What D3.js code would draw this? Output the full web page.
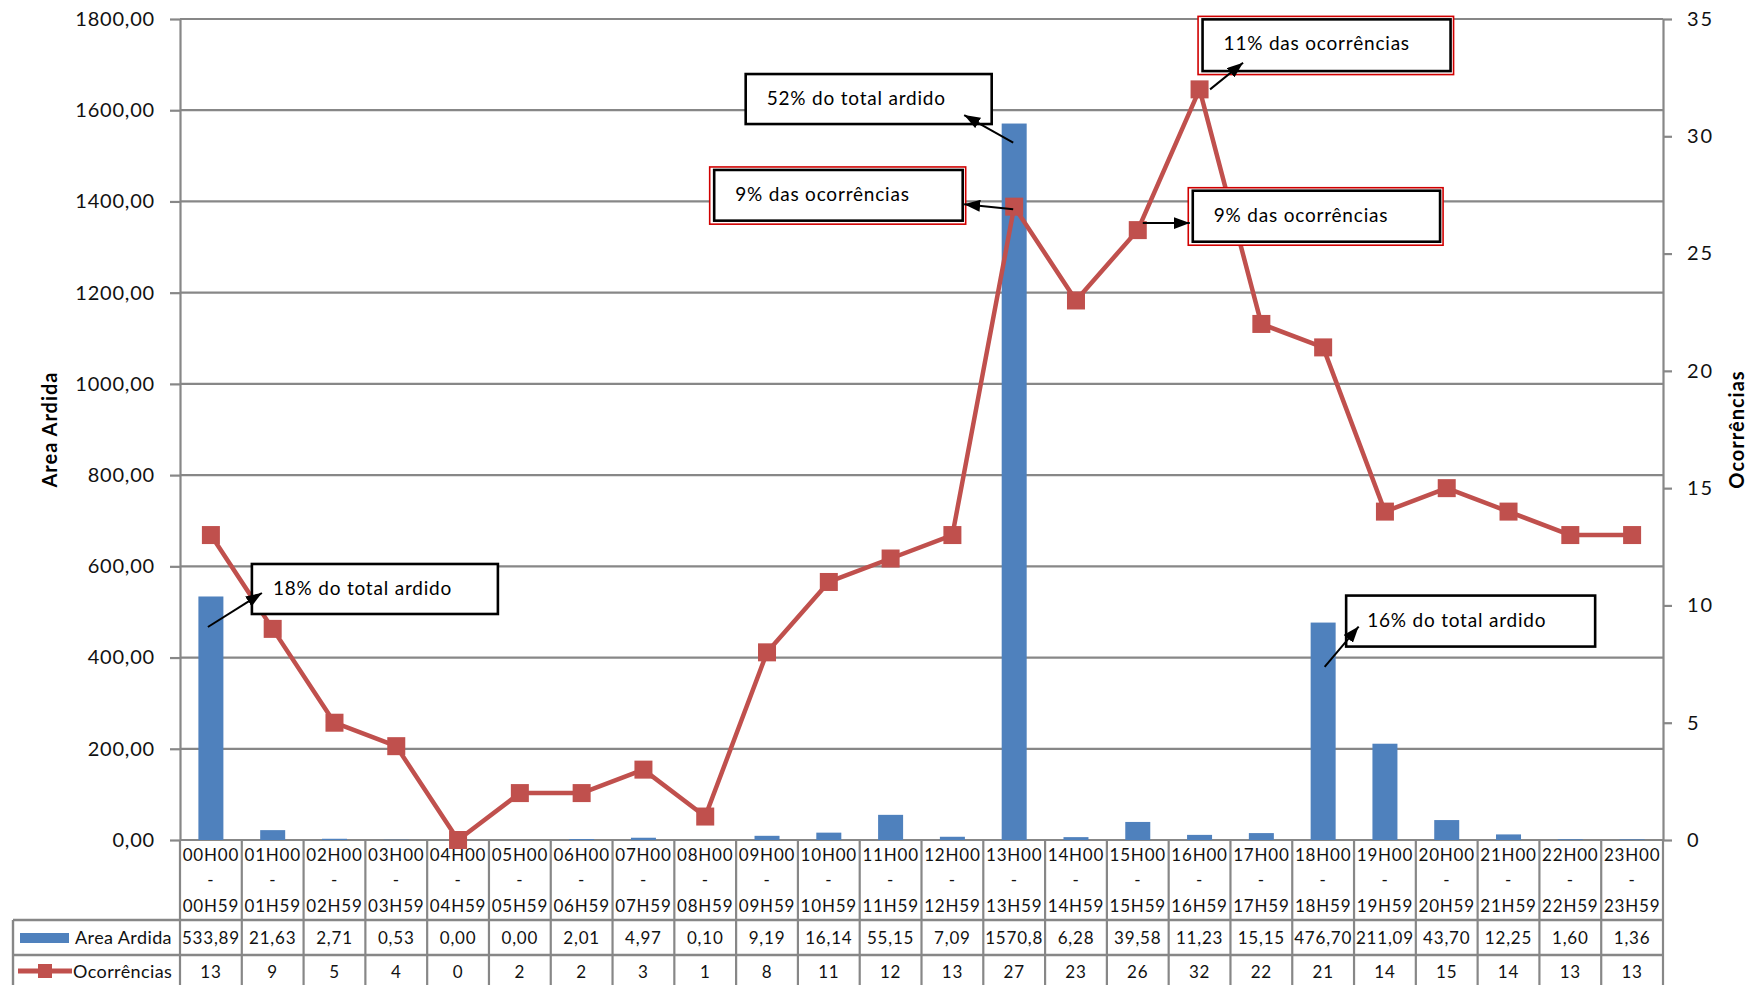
<!DOCTYPE html>
<html>
<head>
<meta charset="utf-8">
<script src="https://cdn.jsdelivr.net/npm/d3@7/dist/d3.min.js"></script>
<style>
  html, body { margin: 0; padding: 0; background: #fff; }
  svg { display: block; font-family: Lato, "Open Sans", sans-serif; }
</style>
</head>
<body>
<div id="chart"></div>
<script>
// ── Dados ────────────────────────────────────────────────────────────────
const horas_inicio = ['00H00','01H00','02H00','03H00','04H00','05H00','06H00','07H00','08H00','09H00','10H00','11H00',
                      '12H00','13H00','14H00','15H00','16H00','17H00','18H00','19H00','20H00','21H00','22H00','23H00'];
const horas_fim    = ['00H59','01H59','02H59','03H59','04H59','05H59','06H59','07H59','08H59','09H59','10H59','11H59',
                      '12H59','13H59','14H59','15H59','16H59','17H59','18H59','19H59','20H59','21H59','22H59','23H59'];
const area_ardida  = [533.89, 21.63, 2.71, 0.53, 0.00, 0.00, 2.01, 4.97, 0.10, 9.19, 16.14, 55.15,
                      7.09, 1570.8, 6.28, 39.58, 11.23, 15.15, 476.70, 211.09, 43.70, 12.25, 1.60, 1.36];
const area_labels  = ['533,89','21,63','2,71','0,53','0,00','0,00','2,01','4,97','0,10','9,19','16,14','55,15',
                      '7,09','1570,8','6,28','39,58','11,23','15,15','476,70','211,09','43,70','12,25','1,60','1,36'];
const ocorrencias  = [13, 9, 5, 4, 0, 2, 2, 3, 1, 8, 11, 12, 13, 27, 23, 26, 32, 22, 21, 14, 15, 14, 13, 13];

const area_ticks = [0, 200, 400, 600, 800, 1000, 1200, 1400, 1600, 1800];
const ocor_ticks = [0, 5, 10, 15, 20, 25, 30, 35];

const notas_texto = ['18% do total ardido', '52% do total ardido', '9% das  ocorrências',
                     '11% das ocorrências', '9% das ocorrências', '16% do total ardido'];

// ── Layout ───────────────────────────────────────────────────────────────
const width = 1758, height = 985;
const plot = { left: 180, right: 1663, top: 19, bottom: 840 };
const tabela = { left: 13, linha1: 920, linha2: 955, fundo: 995 };
const cinza = '#878787', azul = '#4F81BD', vermelho = '#C0504D';

// anotações: âncora (série, índice) + deslocamentos em px
const notas_layout = [
  { serie: 'area', i: 0,  de: [-3, 30.5],  para: [51, -3.5],  caixa: [41, -32.5, 246, 50],    duplo: false },
  { serie: 'area', i: 13, de: [-1, 19],    para: [-50, -8.5], caixa: [-268.5, -49.5, 246, 50], duplo: false },
  { serie: 'ocor', i: 13, de: [-1, 2.5],   para: [-50, -2.5], caixa: [-300, -36.7, 248.5, 50.7], duplo: true },
  { serie: 'ocor', i: 16, de: [10.5, 0],   para: [43.5, -26.7], caixa: [3, -70, 248, 51.7],  duplo: true },
  { serie: 'ocor', i: 15, de: [5, -7],     para: [52, -7],    caixa: [55, -39.4, 247.3, 51], duplo: true },
  { serie: 'area', i: 18, de: [1.5, 44.4], para: [35.5, 4],   caixa: [23, -27, 249, 51],     duplo: false }
];

const svg = d3.select('#chart').append('svg')
  .attr('width', width).attr('height', height)
  .attr('viewBox', [0, 0, width, height]);

svg.append('rect').attr('width', width).attr('height', height).attr('fill', '#fff');

const defs   = svg.append('defs');
const grelha = svg.append('g').attr('id', 'grelha');
const barras = svg.append('g').attr('id', 'barras');
const tab    = svg.append('g').attr('id', 'tabela');
const eixos  = svg.append('g').attr('id', 'eixos');
const linha  = svg.append('g').attr('id', 'linha');
const caixas = svg.append('g').attr('id', 'caixas');
const setas  = svg.append('g').attr('id', 'setas');

// ── Escalas ──────────────────────────────────────────────────────────────
const idx = d3.range(horas_inicio.length);
const x = d3.scaleBand().domain(idx).range([plot.left, plot.right]).padding(0);
const cx = i => x(i) + x.bandwidth() / 2;
const yArea = d3.scaleLinear().domain([0, 1800]).range([plot.bottom, plot.top]);
const yOcor = d3.scaleLinear().domain([0, 35]).range([plot.bottom, plot.top]);

const pt = d3.formatLocale({ decimal: ',', thousands: '', grouping: [3], currency: ['', ''] });
const fmtArea = pt.format('.2f');

// ── Grelha ───────────────────────────────────────────────────────────────
grelha.selectAll('line')
  .data(area_ticks)
  .join('line')
  .attr('x1', plot.left).attr('x2', plot.right)
  .attr('y1', d => yArea(d)).attr('y2', d => yArea(d))
  .attr('stroke', cinza).attr('stroke-width', 2.2);

// ── Barras ───────────────────────────────────────────────────────────────
const barW = 25;
barras.selectAll('rect')
  .data(area_ardida)
  .join('rect')
  .attr('x', (d, i) => cx(i) - barW / 2)
  .attr('width', barW)
  .attr('y', d => yArea(d))
  .attr('height', d => yArea(0) - yArea(d))
  .attr('fill', azul);

// ── Eixos ────────────────────────────────────────────────────────────────
const eixoEsq = eixos.append('g')
  .attr('transform', `translate(${plot.left},0)`)
  .call(d3.axisLeft(yArea).tickValues(area_ticks).tickFormat(fmtArea)
    .tickSize(10).tickSizeOuter(0).tickPadding(15));

const eixoDir = eixos.append('g')
  .attr('transform', `translate(${plot.right},0)`)
  .call(d3.axisRight(yOcor).tickValues(ocor_ticks).tickFormat(d3.format('d'))
    .tickSize(9).tickSizeOuter(0).tickPadding(15));

[eixoEsq, eixoDir].forEach(g => {
  g.attr('font-family', null).attr('font-size', null);
  g.select('.domain').attr('stroke', cinza).attr('stroke-width', 2.2);
  g.selectAll('.tick line').attr('stroke', cinza).attr('stroke-width', 2.2);
  g.selectAll('.tick text').attr('fill', '#111').attr('font-size', 20).attr('letter-spacing', 0.8);
});
eixoDir.selectAll('.tick text').attr('letter-spacing', 2);

eixos.append('text')
  .attr('transform', `translate(50,${(plot.top + plot.bottom) / 2}) rotate(-90)`)
  .attr('text-anchor', 'middle').attr('dy', '0.35em')
  .attr('font-size', 20).attr('font-weight', 700).attr('letter-spacing', 1)
  .text('Area Ardida');

eixos.append('text')
  .attr('transform', `translate(1737,${(plot.top + plot.bottom) / 2}) rotate(-90)`)
  .attr('text-anchor', 'middle').attr('dy', '0.35em')
  .attr('font-size', 20).attr('font-weight', 700).attr('letter-spacing', 1)
  .text('Ocorrências');

// ── Tabela de dados ──────────────────────────────────────────────────────
const cols = idx.map(i => x(i)).concat([plot.right]);
tab.selectAll('line.col')
  .data(cols)
  .join('line').attr('class', 'col')
  .attr('x1', d => d).attr('x2', d => d)
  .attr('y1', plot.bottom).attr('y2', tabela.fundo)
  .attr('stroke', cinza).attr('stroke-width', 2.2);

tab.selectAll('line.row')
  .data([tabela.linha1, tabela.linha2])
  .join('line').attr('class', 'row')
  .attr('x1', tabela.left).attr('x2', plot.right)
  .attr('y1', d => d).attr('y2', d => d)
  .attr('stroke', cinza).attr('stroke-width', 2.4);

tab.append('line')
  .attr('x1', tabela.left).attr('x2', tabela.left)
  .attr('y1', tabela.linha1).attr('y2', tabela.fundo)
  .attr('stroke', cinza).attr('stroke-width', 2.4);

const celula = (dados, y, txt) => tab.append('g').selectAll('text')
  .data(dados)
  .join('text')
  .attr('x', (d, i) => cx(i))
  .attr('y', y).attr('dy', '0.36em')
  .attr('text-anchor', 'middle')
  .attr('font-size', 17).attr('letter-spacing', 0.8).attr('fill', '#111')
  .text(txt);

celula(horas_inicio, 855, d => d);
celula(horas_inicio, 880, () => '-');
celula(horas_fim, 906, d => d);
celula(area_labels, 938, d => d);
celula(ocorrencias, 972, d => d);

// legenda na tabela
tab.append('rect').attr('x', 20).attr('y', 933).attr('width', 49).attr('height', 10).attr('fill', azul);
tab.append('line').attr('x1', 18).attr('x2', 72).attr('y1', 971).attr('y2', 971)
  .attr('stroke', vermelho).attr('stroke-width', 5);
tab.append('rect').attr('x', 38).attr('y', 964).attr('width', 14).attr('height', 14).attr('fill', vermelho);
tab.append('text').attr('x', 75).attr('y', 938).attr('dy', '0.36em')
  .attr('font-size', 18).attr('letter-spacing', 0.4).attr('fill', '#111').text('Area Ardida');
tab.append('text').attr('x', 73).attr('y', 972).attr('dy', '0.36em')
  .attr('font-size', 18).attr('letter-spacing', 0.4).attr('fill', '#111').text('Ocorrências');

// ── Linha de ocorrências ─────────────────────────────────────────────────
linha.append('path')
  .datum(ocorrencias)
  .attr('d', d3.line().x((d, i) => cx(i)).y(d => yOcor(d)))
  .attr('fill', 'none').attr('stroke', vermelho)
  .attr('stroke-width', 4.5).attr('stroke-linejoin', 'round');

const mk = 18;
linha.selectAll('rect')
  .data(ocorrencias)
  .join('rect')
  .attr('x', (d, i) => cx(i) - mk / 2)
  .attr('y', d => yOcor(d) - mk / 2)
  .attr('width', mk).attr('height', mk)
  .attr('fill', vermelho);

// ── Anotações ────────────────────────────────────────────────────────────
defs.append('marker')
  .attr('id', 'seta')
  .attr('markerUnits', 'userSpaceOnUse')
  .attr('viewBox', '0 -6 16 12')
  .attr('refX', 16).attr('refY', 0)
  .attr('markerWidth', 16).attr('markerHeight', 12)
  .attr('orient', 'auto')
  .append('path').attr('d', 'M0,-6L16,0L0,6Z').attr('fill', '#000');

const ancora = n => [cx(n.i), n.serie === 'area' ? yArea(area_ardida[n.i]) : yOcor(ocorrencias[n.i])];

notas_layout.forEach((n, k) => {
  const [ax, ay] = ancora(n);
  const [bx, by, bw, bh] = n.caixa;
  const g = caixas.append('g');

  if (n.duplo) {
    g.append('rect')
      .attr('x', ax + bx - 4.5).attr('y', ay + by - 3)
      .attr('width', bw + 7.5).attr('height', bh + 6.5)
      .attr('fill', '#fff').attr('stroke', '#d00000').attr('stroke-width', 1.6);
  }
  g.append('rect')
    .attr('x', ax + bx).attr('y', ay + by)
    .attr('width', bw).attr('height', bh)
    .attr('fill', '#fff').attr('stroke', '#000').attr('stroke-width', 2.6);

  g.append('text')
    .attr('x', ax + bx + 21).attr('y', ay + by + 31)
    .attr('font-size', 19).attr('letter-spacing', 0.8).attr('fill', '#000')
    .text(notas_texto[k]);

  setas.append('line')
    .attr('x1', ax + n.de[0]).attr('y1', ay + n.de[1])
    .attr('x2', ax + n.para[0]).attr('y2', ay + n.para[1])
    .attr('stroke', '#000').attr('stroke-width', 2)
    .attr('marker-end', 'url(#seta)');
});
</script>
</body>
</html>
